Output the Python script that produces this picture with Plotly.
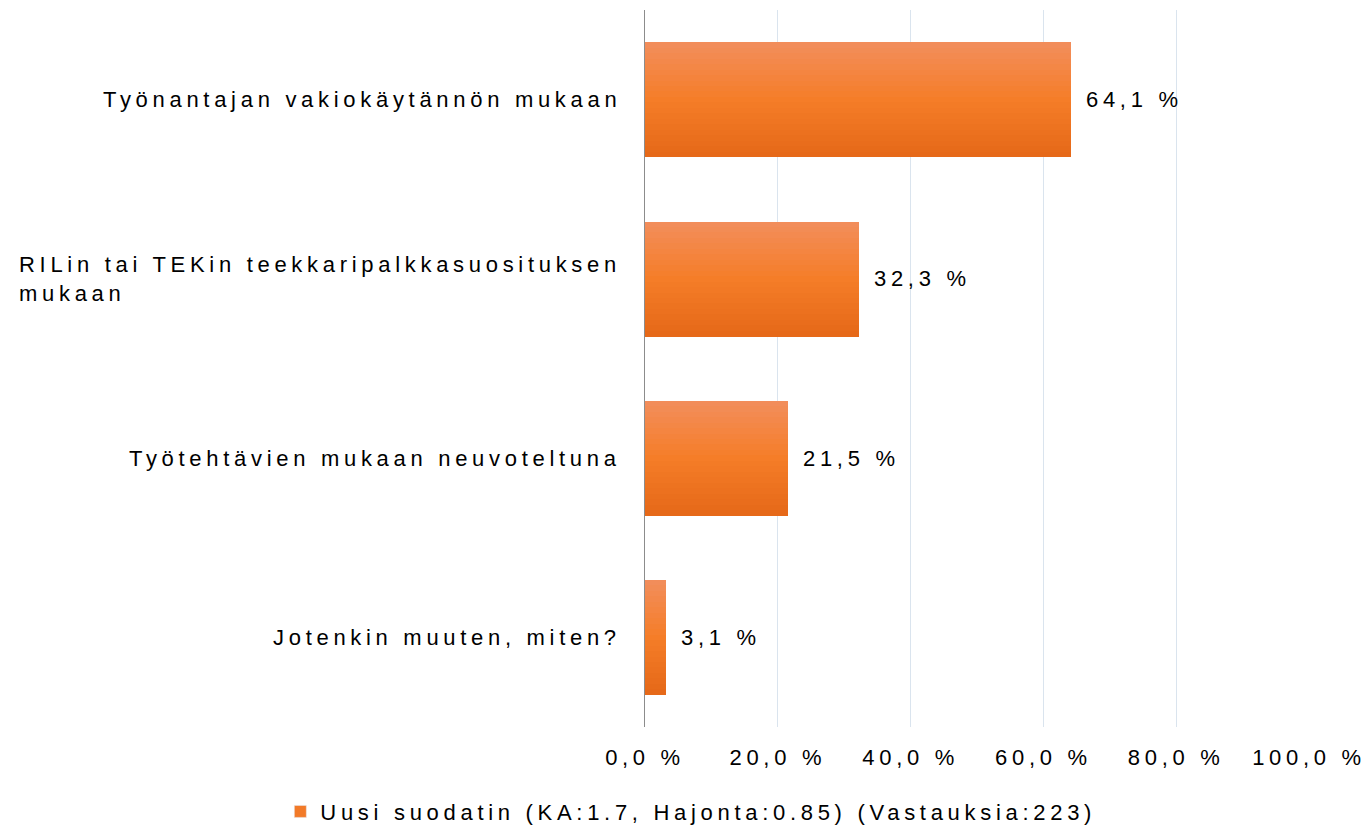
import plotly.graph_objects as go

categories = [
    "Työnantajan vakiokäytännön mukaan",
    "RILin tai TEKin teekkaripalkkasuosituksen<br>mukaan",
    "Työtehtävien mukaan neuvoteltuna",
    "Jotenkin muuten, miten?",
]
values = [64.1, 32.3, 21.5, 3.1]
tick_vals = [0, 20, 40, 60, 80, 100]
tick_text = ["0,0 %", "20,0 %", "40,0 %", "60,0 %", "80,0 %", "100,0 %"]
series_name = "Uusi suodatin (KA:1.7, Hajonta:0.85) (Vastauksia:223)"

FONT = "Liberation Sans"
FS = 22

idx = list(range(len(categories)))

# gradient colours top -> middle -> bottom
top_c = (242, 142, 92)
mid_c = (245, 125, 40)
bot_c = (229, 104, 24)


def lerp(a, b, t):
    return tuple(round(a[k] + (b[k] - a[k]) * t) for k in range(3))


N = 21
bar_w = 0.64
band = bar_w / N
fig = go.Figure()
for i in range(N):
    t = (i + 0.5) / N
    if t < 0.5:
        c = lerp(top_c, mid_c, t / 0.5)
    else:
        c = lerp(mid_c, bot_c, (t - 0.5) / 0.5)
    fig.add_trace(go.Bar(
        x=values, y=idx, orientation="h",
        width=band * 1.08, offset=-bar_w / 2 + i * band,
        marker=dict(color="rgb(%d,%d,%d)" % c, line=dict(width=0)),
        showlegend=False, hoverinfo="skip",
    ))

# legend entry
fig.add_trace(go.Bar(
    x=[None], y=[None], orientation="h", name=series_name,
    marker=dict(color="rgb(242,122,40)"), showlegend=True,
))

# value labels
for i, v in enumerate(values):
    fig.add_annotation(
        x=v, y=i, xref="x", yref="y",
        text=("%.1f" % v).replace(".", ",") + " %", showarrow=False,
        xanchor="left", yanchor="middle", xshift=13,
        font=dict(family=FONT, size=FS, color="#000000"),
    )

# category labels
for i, cat in enumerate(categories):
    fig.add_annotation(
        x=0, y=i, xref="x", yref="y", text=cat, showarrow=False,
        xanchor="right", yanchor="middle", align="left", xshift=-22,
        font=dict(family=FONT, size=FS, color="#000000"),
    )

fig.update_layout(
    width=1368, height=829,
    margin=dict(l=645, r=59, t=10, b=102, autoexpand=False),
    paper_bgcolor="white", plot_bgcolor="white",
    barmode="overlay", bargap=0,
    font=dict(family=FONT, size=FS, color="#000000"),
    showlegend=True,
    legend=dict(
        orientation="h", xref="container", yref="container",
        x=0.505, xanchor="center", y=0.021, yanchor="middle",
        font=dict(family=FONT, size=FS, color="#000000"),
        itemwidth=30,
    ),
)
fig.update_xaxes(
    range=[0, 100], tickvals=tick_vals, ticktext=tick_text,
    showgrid=True, gridcolor="#DAE4EE", gridwidth=1, zeroline=False,
    ticks="outside", ticklen=11, tickcolor="rgba(0,0,0,0)",
    tickfont=dict(family=FONT, size=FS, color="#000000"),
    showline=False, fixedrange=True, automargin=False,
)
fig.update_yaxes(
    range=[3.5, -0.5], showticklabels=False, showgrid=False, zeroline=False,
    showline=True, linecolor="#8C8C8C", linewidth=1, ticks="",
    fixedrange=True, automargin=False,
)

# The reference text is tracked (letter-spaced); Plotly fonts have no
# letter-spacing option, so add it with CSS and re-render so that Plotly
# measures the spaced text (the font family string is changed slightly so
# that Plotly's cached text sizes are not reused).
post = """
var st = document.createElement('style');
st.textContent = 'text { letter-spacing: 4.7px !important; }';
document.head.appendChild(st);
document.body.style.margin = '0';
var gd = document.getElementById('{plot_id}');
var lay = JSON.parse(JSON.stringify(gd.layout).split('Liberation Sans').join('Liberation Sans, sans-serif'));
Plotly.newPlot(gd, gd.data, lay, {displayModeBar: false});
"""

fig.write_html("out.html", post_script=post, config={"displayModeBar": False})
